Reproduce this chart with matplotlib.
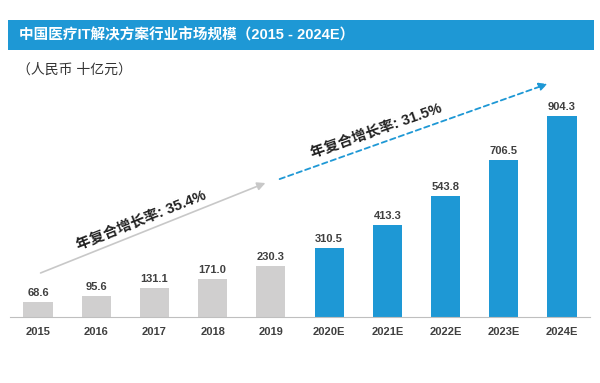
import matplotlib.pyplot as plt
from matplotlib.patches import Rectangle

plt.rcParams['font.family'] = ['Liberation Sans', 'Noto Sans CJK SC', 'DejaVu Sans']

years = ['2015', '2016', '2017', '2018', '2019', '2020E', '2021E', '2022E', '2023E', '2024E']
values = [68.6, 95.6, 131.1, 171.0, 230.3, 310.5, 413.3, 543.8, 706.5, 904.3]
is_forecast = [False] * 5 + [True] * 5

grey = '#D0CFCF'
blue = '#1E98D5'

fig = plt.figure(figsize=(6, 3.83), dpi=100)

# title band
fig.patches.append(Rectangle((8 / 600, 1 - 50 / 383), 586 / 600, 30 / 383,
                             transform=fig.transFigure, facecolor=blue, edgecolor='none'))
fig.text(19 / 600, 1 - 35 / 383, '中国医疗IT解决方案行业市场规模（2015 - 2024E）',
         color='white', fontsize=10.5, fontweight='bold', va='center', ha='left')
fig.text(17 / 600, 1 - 70 / 383, '（人民币 十亿元）', color='#333333', fontsize=10,
         va='center', ha='left')

ax = fig.add_axes([10 / 600, 66 / 383, 580 / 600, 217 / 383])
x = range(len(years))
colors = [blue if f else grey for f in is_forecast]
ax.bar(x, values, width=0.5, color=colors)
for i, v in zip(x, values):
    ax.text(i, v + 18, f'{v:.1f}', ha='center', va='bottom', fontsize=8,
            fontweight='bold', color='#404040')

ax.set_xlim(-0.48, 9.48)
ax.set_ylim(0, 976)
ax.set_xticks(list(x))
ax.set_xticklabels(years, fontsize=8, fontweight='bold', color='#404040')
ax.tick_params(axis='x', length=0, pad=7)
ax.set_yticks([])
for s in ['top', 'left', 'right']:
    ax.spines[s].set_visible(False)
ax.spines['bottom'].set_color('#BFBFBF')

# CAGR arrows, placed in figure pixel coords
def fp(px, py):
    return (px / 600, 1 - py / 383)

ax.annotate('', xy=fp(268, 182), xytext=fp(38, 274), xycoords='figure fraction',
            textcoords='figure fraction',
            arrowprops=dict(arrowstyle='-|>', color='#C8C8C8', lw=1.2, mutation_scale=12))
ax.annotate('', xy=fp(550, 83), xytext=fp(277, 180), xycoords='figure fraction',
            textcoords='figure fraction',
            arrowprops=dict(arrowstyle='-|>', color=blue, lw=1.3, linestyle=(0, (3, 2)),
                            mutation_scale=12))

fig.text(*fp(141, 220), '年复合增长率: 35.4%', rotation=21.8, ha='center', va='center',
         fontsize=10.5, fontweight='bold', color='#222222', rotation_mode='anchor')
fig.text(*fp(376, 131), '年复合增长率: 31.5%', rotation=19.6, ha='center', va='center',
         fontsize=10.5, fontweight='bold', color='#222222', rotation_mode='anchor')

fig.savefig('out.png', dpi=100)
